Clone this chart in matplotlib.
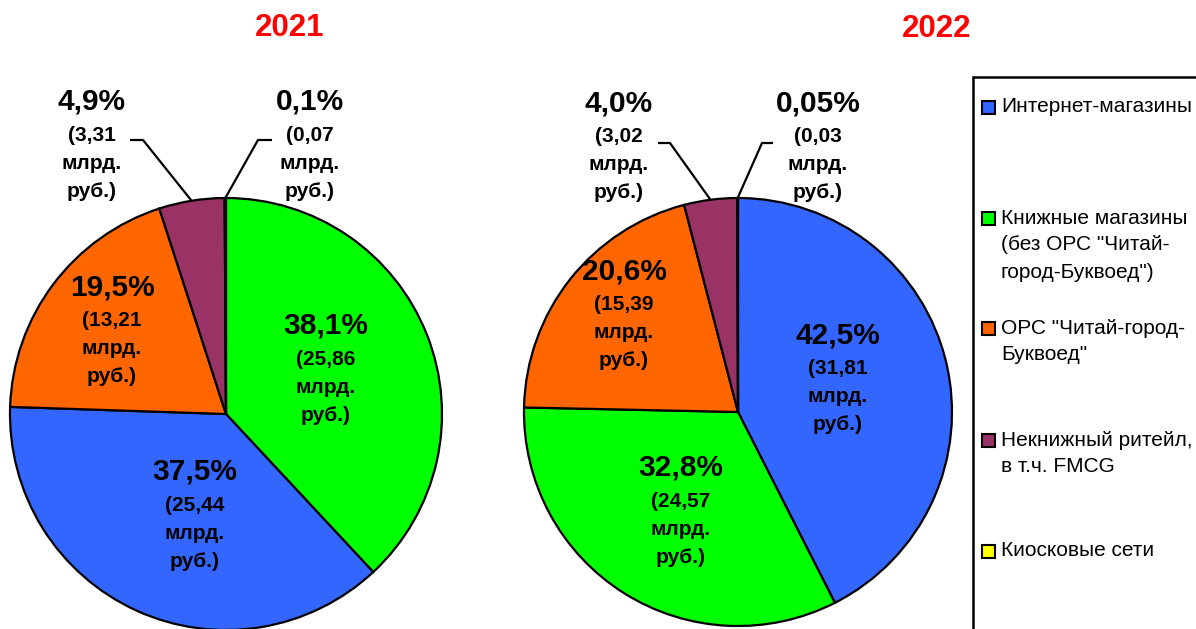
import numpy as np
import matplotlib
matplotlib.use('Agg')
import matplotlib.pyplot as plt
from matplotlib.patches import Rectangle

# ---------------- data ----------------
categories = ['Интернет-магазины',
              'Книжные магазины\n(без ОРС "Читай-\nгород-Буквоед")',
              'ОРС "Читай-город-\nБуквоед"',
              'Некнижный ритейл,\nв т.ч. FMCG',
              'Киосковые сети']
years = ['2021', '2022']
share_2021 = [37.5, 38.1, 19.5, 4.9, 0.1]        # %
amount_2021 = [25.44, 25.86, 13.21, 3.31, 0.07]  # млрд. руб.
share_2022 = [42.5, 32.8, 20.6, 4.0, 0.05]
amount_2022 = [31.81, 24.57, 15.39, 3.02, 0.03]
# drawing order of slices, clockwise from 12 o'clock (category indices)
order_2021 = [1, 0, 2, 3, 4]
order_2022 = [0, 1, 2, 3, 4]

# ---------------- style / layout ----------------
colors = ['#3366FF', '#00FF00', '#FF6600', '#993366', '#FFFF00']
W, H = 1196, 629
FONT = 'Liberation Sans'
plt.rcParams['font.family'] = [FONT, 'DejaVu Sans']

pies = [
    dict(year=years[0], share=share_2021, amount=amount_2021, order=order_2021,
         center=(226, 414), radius=216, title_xy=(290, 28),
         # baseline position of percentage text per category
         label_xy=[(195, 480), (326, 334), (112, 295), (92, 110), (310, 110)],
         # elbow of leader line (x_outer, x_inner, y) for outside labels
         leaders={3: (130, 143, 140), 4: (272, 258, 140)}),
    dict(year=years[1], share=share_2022, amount=amount_2022, order=order_2022,
         center=(738, 412), radius=214, title_xy=(937, 29),
         label_xy=[(838, 343), (681, 476), (624, 279), (619, 111), (818, 111)],
         leaders={3: (658, 670, 143), 4: (773, 762, 143)}),
]


def fy(y):
    return H - y


def fmt(v, nd):
    return (('%.' + str(nd) + 'f') % v).replace('.', ',')


fig = plt.figure(figsize=(W / 100, H / 100), dpi=100)
ax = fig.add_axes([0, 0, 1, 1])

for p in pies:
    cx, cy = p['center']
    r = p['radius']
    vals = [p['share'][i] for i in p['order']]
    cols = [colors[i] for i in p['order']]
    wedges, _ = ax.pie(vals, colors=cols, startangle=90, counterclock=False,
                       center=(cx, fy(cy)), radius=r,
                       wedgeprops=dict(edgecolor='black', linewidth=1.6))
    mids = {}
    for k, w in zip(p['order'], wedges):
        mids[k] = np.deg2rad((w.theta1 + w.theta2) / 2)

    ax.text(p['title_xy'][0], fy(p['title_xy'][1]), p['year'], color='#FF0000',
            fontsize=22.5, fontweight='bold', ha='center', va='center')

    for k in range(len(categories)):
        lx, ly = p['label_xy'][k]
        v = p['share'][k]
        pct = fmt(v, 2 if v < 0.1 else 1) + '%'
        ax.text(lx, fy(ly), pct, fontsize=21.5, fontweight='bold',
                ha='center', va='baseline')
        sub = ['(' + fmt(p['amount'][k], 2), 'млрд.', 'руб.)']
        for j, s in enumerate(sub):
            ax.text(lx, fy(ly + 31 + 28 * j), s, fontsize=15,
                    fontweight='bold', ha='center', va='baseline')

    for k, (xo, xi, yl) in p['leaders'].items():
        ang = mids[k]
        ex = cx + r * np.cos(ang)
        ey = fy(cy) + r * np.sin(ang)
        ax.plot([xo, xi, ex], [fy(yl), fy(yl), ey], color='black', lw=1.6,
                solid_capstyle='butt')

# legend frame and entries
ax.add_patch(Rectangle((973, fy(660)), 400, 660 - 77, fill=False,
                       edgecolor='black', linewidth=1.8))
legend_y = [107, 218, 328, 440, 551]
for k, name in enumerate(categories):
    y0 = legend_y[k]
    ax.add_patch(Rectangle((982, fy(y0) - 6.5), 13, 13, facecolor=colors[k],
                           edgecolor='black', linewidth=1.5))
    for j, line in enumerate(name.split('\n')):
        ax.text(1001, fy(y0 + 27 * j), line, fontsize=15,
                ha='left', va='center')

ax.set_xlim(0, W)
ax.set_ylim(0, H)
ax.set_aspect('equal')
ax.axis('off')
fig.savefig('out.png', dpi=100)
